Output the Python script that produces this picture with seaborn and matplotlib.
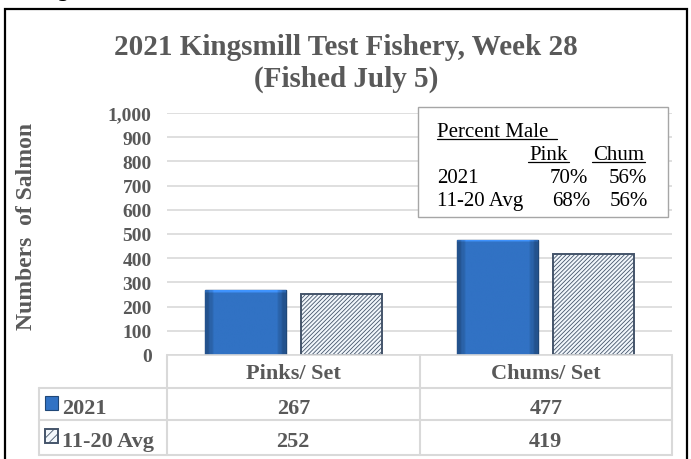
import numpy as np
import pandas as pd
import matplotlib; matplotlib.use('agg')
import matplotlib.pyplot as plt
import matplotlib.transforms as mtransforms
from matplotlib.patches import Rectangle
from matplotlib.lines import Line2D
import seaborn as sns


# data
categories = ['Pinks/ Set', 'Chums/ Set']
series = ['2021', '11-20 Avg']
values_2021 = [267, 477]
values_avg = [252, 419]
yticks = [0, 100, 200, 300, 400, 500, 600, 700, 800, 900, 1000]

pct_title = 'Percent Male'
pct_species = ['Pink', 'Chum']
pct_rows = ['2021', '11-20 Avg']
pct_values = [['70%', '56%'], ['68%', '56%']]

title_lines = ['2021 Kingsmill Test Fishery, Week 28', '(Fished July 5)']
ylabel = 'Numbers  of Salmon'

sns.set_theme(style="whitegrid")
plt.rcParams['font.family'] = ['Liberation Serif', 'DejaVu Serif']
plt.rcParams['hatch.linewidth'] = 0.6

GRAY = '#595959'
GRID = '#d9d9d9'
BLUE = '#3172c4'
EDGE = '#1f4777'
HATCH = '#44546a'
PALE = '#f2f7fc'

W, H = 691, 460
# axes box in pixels (left, right, top, bottom)
AL, AR, AT, AB = 167, 672, 114, 356


def ax_x(px):
    return (px - AL) / (AR - AL)


def ax_y(py):
    return (AB - py) / (AB - AT)


df = pd.DataFrame({
    'category': categories * 2,
    'count': values_2021 + values_avg,
    'series': [series[0]] * len(categories) + [series[1]] * len(categories),
})

fig = plt.figure(figsize=(W / 100, H / 100), dpi=100)
ax = fig.add_axes([AL / W, 1 - AB / H, (AR - AL) / W, (AB - AT) / H])

sns.barplot(data=df, x='category', y='count', hue='series', hue_order=series,
            palette={series[0]: BLUE, series[1]: PALE},
            width=0.76, gap=0.16, legend=False, ax=ax,
            edgecolor=EDGE, linewidth=1.0)

# hatched average bars
for bar in ax.containers[1]:
    bar.set_facecolor(PALE)
    bar.set_edgecolor(HATCH)
    bar.set_hatch('////////')
    bar.set_linewidth(1.4)

# soft bevel on 2021 bars: darker sides, lighter top band
prof = np.ones(40)
prof[:2] = 0.72
prof[2:4] = 0.86
prof[-2:] = 0.72
prof[-4:-2] = 0.86
base = np.array(matplotlib.colors.to_rgb(BLUE))
for bar in ax.containers[0]:
    x0, y0 = bar.get_x(), bar.get_y()
    bw, bh = bar.get_width(), bar.get_height()
    rows = int(bh / 4) + 1
    shade = np.ones((rows, 1))
    shade[:2] = 1.3
    shade[2:3] = 1.15
    img = np.clip(base[None, None, :] * prof[None, :, None] * shade[:, :, None], 0, 1)
    im = ax.imshow(img, extent=[x0, x0 + bw, y0, y0 + bh], origin='upper',
                   aspect='auto', zorder=bar.get_zorder(), interpolation='bilinear')
    im.set_clip_path(bar)

ax.set_xlim(-0.5, 1.5)
ax.set_ylim(0, 1000)
ax.set_yticks(yticks)
ax.set_yticklabels([f'{v:,}' for v in yticks])
ax.grid(axis='y', color=GRID, linewidth=1.2)
ax.grid(axis='x', visible=False)
ax.set_axisbelow(True)
for s in ['left', 'top', 'right']:
    ax.spines[s].set_visible(False)
ax.spines['bottom'].set_color(GRID)
ax.spines['bottom'].set_linewidth(1.2)

ax.tick_params(axis='y', length=0, pad=11, labelsize=14, labelcolor=GRAY)
ax.tick_params(axis='x', length=0, pad=6, labelsize=16, labelcolor=GRAY)
for t in ax.get_yticklabels() + ax.get_xticklabels():
    t.set_fontweight('bold')

ax.set_xlabel('')
ax.set_ylabel(ylabel, fontsize=17, fontweight='bold', color=GRAY)
ax.yaxis.set_label_coords(ax_x(37), ax_y(226))

# data table below the axes
line_kw = dict(color=GRID, linewidth=1.5, transform=ax.transAxes, clip_on=False)
for y in [389, 421, 456]:
    ax.add_line(Line2D([ax_x(39), 1], [ax_y(y)] * 2, **line_kw))
ax.add_line(Line2D([0, 0], [0, ax_y(456)], **line_kw))
ax.add_line(Line2D([ax_x(39), ax_x(39)], [ax_y(389), ax_y(456)], **line_kw))
ax.add_line(Line2D([0.5, 0.5], [0, ax_y(456)], **line_kw))
ax.add_line(Line2D([1, 1], [0, ax_y(456)], **line_kw))

trans = mtransforms.blended_transform_factory(ax.transData, ax.transAxes)
for row, vals, base_y in [(0, values_2021, 414), (1, values_avg, 447)]:
    for i, v in enumerate(vals):
        ax.text(i, ax_y(base_y), str(v), transform=trans, ha='center',
                va='baseline', fontsize=16, fontweight='bold', color=GRAY)
    ax.text(ax_x(62), ax_y(base_y), series[row], transform=ax.transAxes,
            ha='left', va='baseline', fontsize=16, fontweight='bold', color=GRAY)

# legend keys in the table
ax.add_patch(Rectangle((ax_x(45), ax_y(411)), ax_x(58) - ax_x(45), ax_y(397) - ax_y(411),
                       transform=ax.transAxes, clip_on=False, facecolor=BLUE,
                       edgecolor=EDGE, linewidth=0.8))
ax.add_patch(Rectangle((ax_x(45), ax_y(444)), ax_x(58) - ax_x(45), ax_y(430) - ax_y(444),
                       transform=ax.transAxes, clip_on=False, facecolor=PALE,
                       edgecolor=HATCH, hatch='////', linewidth=1.4))

# percent male box
ax.add_patch(Rectangle((ax_x(418), ax_y(218)), ax_x(668) - ax_x(418), ax_y(108) - ax_y(218),
                       transform=ax.transAxes, clip_on=False, facecolor='white',
                       edgecolor='#a6a6a6', linewidth=1.0, zorder=5))
box_kw = dict(transform=ax.transAxes, fontsize=15, color='black', va='baseline', zorder=6)
ax.text(ax_x(437), ax_y(137), pct_title, ha='left', **box_kw)
ax.add_line(Line2D([ax_x(437), ax_x(557)], [ax_y(140)] * 2, color='black', lw=0.9,
                   transform=ax.transAxes, clip_on=False, zorder=6))
for name, xl, xr in [(pct_species[0], 528, 569), (pct_species[1], 592, 645)]:
    ax.text(ax_x((xl + xr) / 2), ax_y(160), name, ha='center', **box_kw)
    ax.add_line(Line2D([ax_x(xl), ax_x(xr)], [ax_y(163)] * 2, color='black', lw=0.9,
                       transform=ax.transAxes, clip_on=False, zorder=6))
for label, vals, by, xr in zip(pct_rows, pct_values, [183, 206], [(588, 647), (590, 648)]):
    ax.text(ax_x(437), ax_y(by), label, ha='left', **box_kw)
    ax.text(ax_x(xr[0]), ax_y(by), vals[0], ha='right', **box_kw)
    ax.text(ax_x(xr[1]), ax_y(by), vals[1], ha='right', **box_kw)

# title
fig.text(346 / W, 1 - 55 / H, title_lines[0], ha='center', va='baseline',
         fontsize=21, fontweight='bold', color=GRAY)
fig.text(346 / W, 1 - 87 / H, title_lines[1], ha='center', va='baseline',
         fontsize=21, fontweight='bold', color=GRAY)

# chart frame and clipped caption above it
fig.patches.append(Rectangle((5.5 / W, -0.02), 681 / W, 1.02 - 9.5 / H,
                             transform=fig.transFigure, fill=False,
                             edgecolor='black', linewidth=1.6))
fig.text(40 / W, 1 + 3 / H, 'Fig', ha='left', va='baseline', fontsize=16,
         family='DejaVu Sans', color='black')

plt.savefig('out.png', dpi=100)
